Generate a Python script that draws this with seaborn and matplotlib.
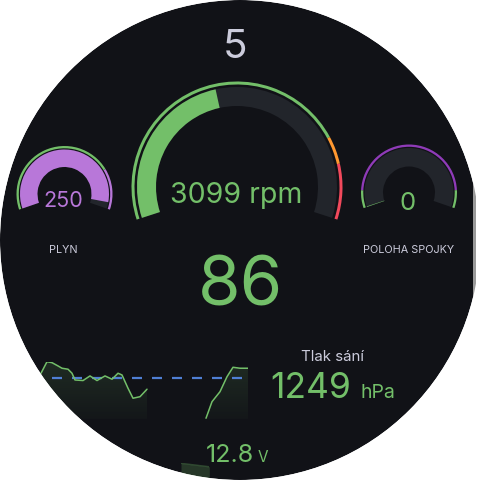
import numpy as np
import matplotlib
matplotlib.use("Agg")
import matplotlib.pyplot as plt
from matplotlib.patches import Wedge, Circle, Rectangle
import pandas as pd
import seaborn as sns

# Hodnoty z dashboardu
gear = 5

rpm = 3099
rpm_max = 7000
rpm_steps = [0, 5500, 6000]
rpm_colors = ['#73bf69', '#ff9830', '#f2495c']

plyn = 250
plyn_max = 260
plyn_steps = [0, 200]
plyn_colors = ['#73bf69', '#b877d9']

spojka = 0
spojka_max = 100
spojka_steps = [0, 10, 90]
spojka_colors = ['#73bf69', '#8f3bb8', '#73bf69']

teplota = 86

tlak = 1249
tlak_prah = 1200
tlak_t = [21, 27, 32, 38, 42, 48, 52, 55, 63, 70, 77, 85, 92, 98, 102, 108, 113, 120, 127,
          186, 192, 200, 207, 213, 220, 228]
tlak_v = [1223, 1283, 1278, 1261, 1249, 1244, 1223, 1188, 1185, 1209, 1185, 1209, 1192, 1223,
          1214, 1145, 1093, 1101, 1140,
          989, 1075, 1127, 1205, 1254, 1249, 1249]
tlak_seg = [0] * 19 + [1] * 7

napeti = 12.8
napeti_t = [0, 1]
napeti_v = [12.87, 12.80]

BG = '#111217'
BAND = '#22252b'
GREEN = '#73bf69'
TEXT = '#ccccdc'

sns.set_theme(style="dark")
plt.rcParams['font.family'] = ['Inter', 'DejaVu Sans']
plt.rcParams['lines.scale_dashes'] = False

fig = plt.figure(figsize=(4.8, 4.8), dpi=100, facecolor='white')
ax = fig.add_axes([0, 0, 1, 1])
ax.set_xlim(0, 480)
ax.set_ylim(0, 480)
ax.set_aspect('equal')
ax.axis('off')
ax.patch.set_alpha(0)


def Y(y):
    return 480 - y


ax.add_patch(Circle((240, 240), 240, color=BG, lw=0, zorder=0))


def gauge(cx, cy, r_in, r_out, ring0, ring1, a0, a1, value, vmax, steps, colors, fill):
    ang = lambda v: a0 - (a0 - a1) * v / vmax
    c = (cx, Y(cy))
    ax.add_patch(Wedge(c, r_out, a1, a0, width=r_out - r_in, color=BAND, lw=0, zorder=1))
    ax.add_patch(Wedge(c, r_out, min(ang(value), a0 - 0.8), a0, width=r_out - r_in,
                       color=fill, lw=0, zorder=2))
    bounds = steps + [vmax]
    for s, e, col in zip(bounds[:-1], bounds[1:], colors):
        ax.add_patch(Wedge(c, ring1, ang(e), ang(s), width=ring1 - ring0, color=col, lw=0, zorder=2))


gauge(237, 187, 81, 100, 102.5, 105.5, 198, -18, rpm, rpm_max, rpm_steps, rpm_colors, GREEN)
gauge(64.5, 194, 27, 44.5, 45.7, 48, 199, -19, plyn, plyn_max, plyn_steps, plyn_colors, '#b877d9')
gauge(409, 192.5, 26, 44.5, 45.7, 48, 199, -19, spojka, spojka_max, spojka_steps, spojka_colors, GREEN)

# texty
ax.text(235.5, Y(58), str(gear), color=TEXT, fontsize=29, ha='center', va='baseline')
ax.text(236, Y(203), f'{rpm} rpm', color=GREEN, fontsize=20.5, ha='center', va='baseline')
ax.text(63, Y(206.7), str(plyn), color='#b877d9', fontsize=15.5, ha='center', va='baseline')
ax.text(408, Y(210), str(spojka), color=GREEN, fontsize=18.5, ha='center', va='baseline')
ax.text(63.3, Y(252.7), 'PLYN', color=TEXT, fontsize=7.8, ha='center', va='baseline')
ax.text(408.3, Y(252.7), 'POLOHA SPOJKY', color=TEXT, fontsize=7.8, ha='center', va='baseline')
ax.text(240, Y(305), str(teplota), color=GREEN, fontsize=49.5, ha='center', va='baseline')
ax.text(332.5, Y(360.7), 'Tlak sání', color=TEXT, fontsize=10.8, ha='center', va='baseline')
ax.text(270.5, Y(398.5), str(tlak), color=GREEN, fontsize=25.5, ha='left', va='baseline')
ax.text(360.5, Y(398.5), 'hPa', color=GREEN, fontsize=14, ha='left', va='baseline')
ax.text(205.5, Y(461.7), f'{napeti}', color=GREEN, fontsize=18, ha='left', va='baseline')
ax.text(258, Y(461.7), 'V', color=GREEN, fontsize=11, ha='left', va='baseline')

# sparkline tlaku
df = pd.DataFrame({'t': tlak_t, 'tlak': tlak_v, 'seg': tlak_seg})
ax2 = fig.add_axes([20 / 480, (480 - 419) / 480, 228 / 480, 57.3 / 480])
ybot, ytop = 985, 1283
grad = np.zeros((100, 1, 4))
grad[:, 0, :3] = matplotlib.colors.to_rgb(GREEN)
grad[:, 0, 3] = np.linspace(0.15, 0.03, 100)
for seg, part in df.groupby('seg'):
    poly = ax2.fill_between(part['t'], part['tlak'], ybot, color='none', lw=0)
    im = ax2.imshow(grad, extent=[0, 228, ybot, ytop], aspect='auto', zorder=1)
    im.set_clip_path(poly.get_paths()[0], transform=ax2.transData)
sns.lineplot(data=df, x='t', y='tlak', units='seg', estimator=None, color=GREEN, lw=1.1,
             ax=ax2, legend=False, zorder=3)
ax2.plot([11.7, 221.7], [tlak_prah, tlak_prah], color='#4f7fd4', lw=1.6,
         dashes=(7.2, 7.2), zorder=2)
ax2.set_xlim(0, 228)
ax2.set_ylim(ybot, ytop)
ax2.axis('off')
ax2.patch.set_alpha(0)

# sparkline napeti
ax3 = fig.add_axes([181 / 480, 0, 28.3 / 480, (480 - 463.3) / 480])
ax3.fill_between(napeti_t, napeti_v, 12.5, color=GREEN, alpha=0.22, lw=0)
sns.lineplot(x=napeti_t, y=napeti_v, color=GREEN, alpha=0.3, lw=1, ax=ax3)
ax3.set_xlim(0, 1)
ax3.set_ylim(12.53, 12.87)
ax3.axis('off')
ax3.patch.set_alpha(0)

# okraj
fig.add_artist(Rectangle((473 / 480, 0), 3 / 480, 1, transform=fig.transFigure,
                         color='#9a9a9a', lw=0, zorder=9))
fig.add_artist(Rectangle((476 / 480, 0), 4 / 480, 1, transform=fig.transFigure,
                         color='white', lw=0, zorder=9))
fig.add_artist(Circle((0.5, 0.5), 295 / 480, transform=fig.transFigure, fill=False,
                      ec='white', lw=79.2, zorder=10))

fig.savefig('out.png', dpi=100, facecolor='white')
